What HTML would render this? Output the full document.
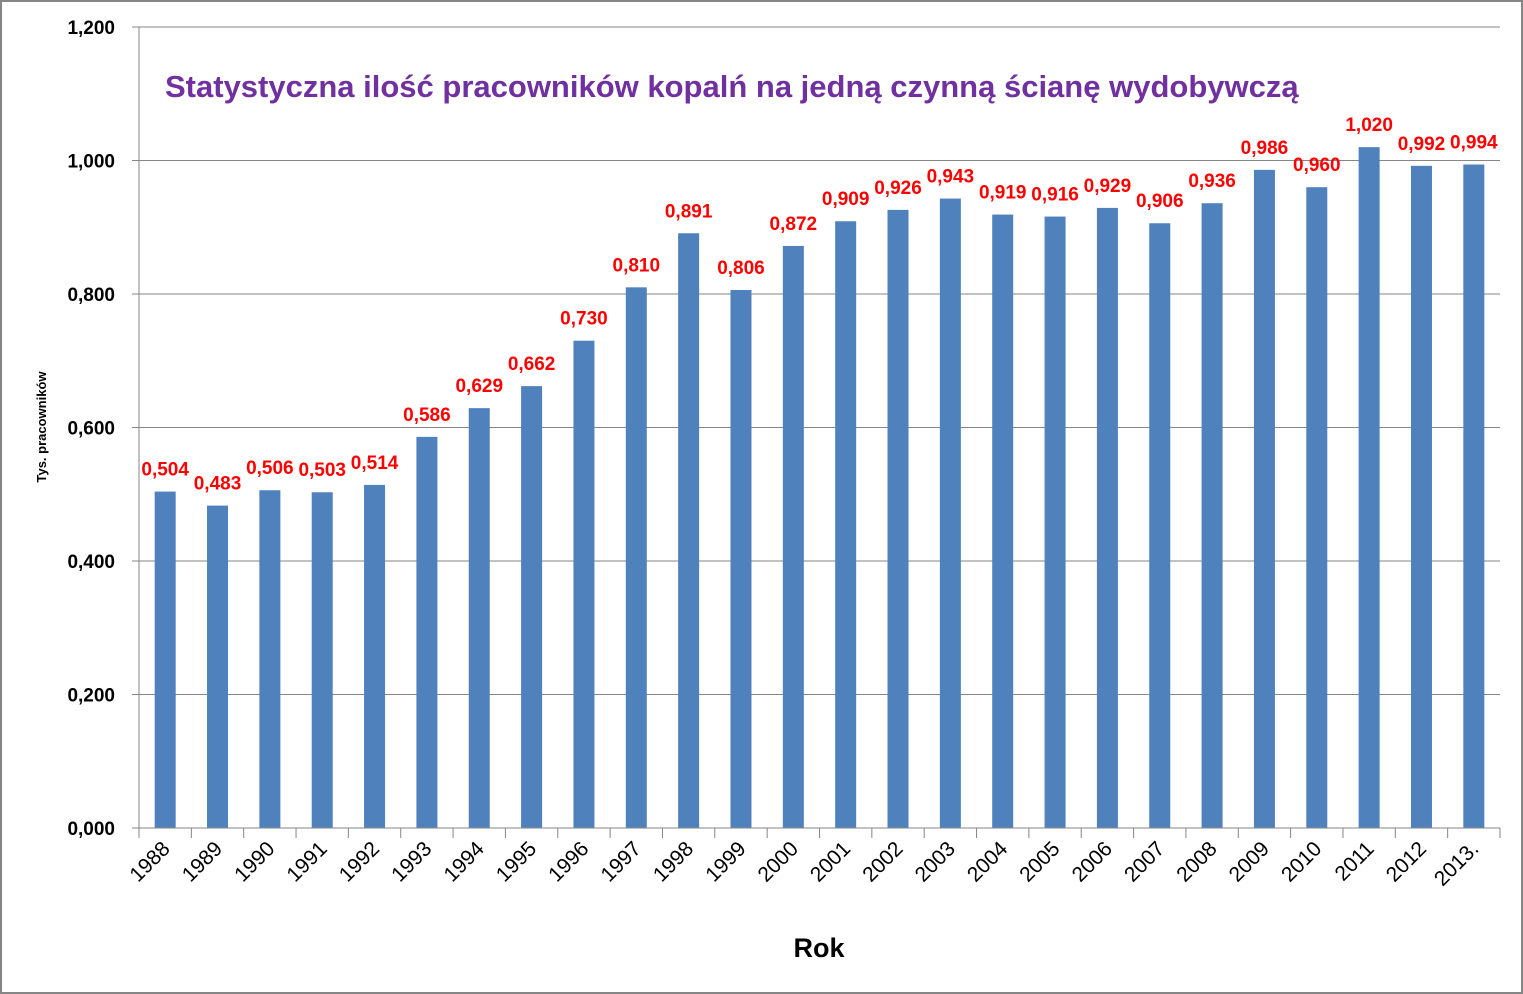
<!DOCTYPE html>
<html><head><meta charset="utf-8"><style>
body{margin:0;background:#fff}
svg{display:block;font-family:"Liberation Sans",sans-serif}
</style></head><body>
<svg id="chart" width="1523" height="994">
<rect x="1" y="1" width="1521" height="992" fill="#fff" stroke="#868686" stroke-width="2"/>
<g id="grid"></g>
<g id="bars"></g>
<g id="labels"></g>
<g id="axes"></g>
<text x="165" y="97" font-size="31" font-weight="bold" fill="#7030A0">Statystyczna ilość pracowników kopalń na jedną czynną ścianę wydobywczą</text>
<text transform="translate(46,427) rotate(-90)" text-anchor="middle" font-size="13" font-weight="bold">Tys. pracowników</text>
<text x="819" y="957" text-anchor="middle" font-size="27" font-weight="bold">Rok</text>
</svg>
<script>
const categories=["1988","1989","1990","1991","1992","1993","1994","1995","1996","1997","1998","1999","2000","2001","2002","2003","2004","2005","2006","2007","2008","2009","2010","2011","2012","2013."];
const values=[0.504,0.483,0.506,0.503,0.514,0.586,0.629,0.662,0.730,0.810,0.891,0.806,0.872,0.909,0.926,0.943,0.919,0.916,0.929,0.906,0.936,0.986,0.960,1.020,0.992,0.994];
const yTicks=[0,0.2,0.4,0.6,0.8,1.0,1.2];
const NS="http://www.w3.org/2000/svg";
const X0=139,X1=1500,Y0=828,Y1=27,YMAX=1.2;
const bw=(X1-X0)/categories.length;
function y(v){return Y0-(v/YMAX)*(Y0-Y1);}
function xc(i){return X0+bw*(i+0.5);}
function mk(tag,attrs,parent){const e=document.createElementNS(NS,tag);for(const k in attrs)e.setAttribute(k,attrs[k]);parent.appendChild(e);return e;}
const fmt=v=>v.toFixed(3).replace('.',',').replace(/^1,/, '1,');
const fmtTick=v=>{let s=v.toFixed(3).replace('.',',');if(v>=1)s='1,'+s.slice(2);return s;};
const grid=document.getElementById('grid'),bars=document.getElementById('bars'),labels=document.getElementById('labels'),axes=document.getElementById('axes');
yTicks.forEach(t=>{
  if(t>0){const l=mk('line',{x1:X0,x2:X1,y1:y(t),y2:y(t),stroke:'#868686','stroke-width':1},grid);
  
  }
  const tk=mk('line',{x1:X0-7,x2:X0,y1:y(t),y2:y(t),stroke:'#868686'},axes);
  
  
  const tx=mk('text',{x:115,y:y(t)+7,'text-anchor':'end','font-size':19,'font-weight':'bold'},axes);
  tx.textContent=fmtTick(t);
  
  
});
categories.forEach((c,i)=>{
  const b=mk('rect',{x:xc(i)-10.5,y:y(values[i]),width:21,height:Y0-y(values[i]),fill:'#4F81BD'},bars);
  
  
  const t=mk('text',{x:xc(i),y:y(values[i])-16,'text-anchor':'middle','font-size':19,'font-weight':'bold',fill:'#FF0000'},labels);
  t.textContent=values[i].toFixed(3).replace('.',',');
  
  
  const xl=mk('text',{transform:`translate(${xc(i)+6},${Y0+22}) rotate(-45)`,'text-anchor':'end','font-size':21},axes);
  xl.textContent=c;
  
  
});
for(let i=0;i<=categories.length;i++){
  const tk=mk('line',{x1:X0+bw*i,x2:X0+bw*i,y1:Y0,y2:Y0+10,stroke:'#868686'},axes);
  
  
}
const ya=mk('line',{x1:X0,x2:X0,y1:Y1,y2:Y0,stroke:'#868686'},axes);


const xa=mk('line',{x1:X0,x2:X1,y1:Y0,y2:Y0,stroke:'#868686'},axes);


</script>
</body></html>
